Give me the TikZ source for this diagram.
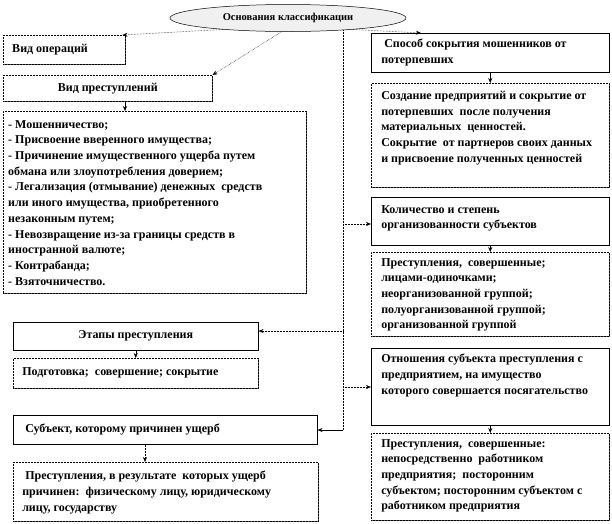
\documentclass[tikz,border=0pt]{standalone}
\usepackage{fontspec}
\setmainfont{Liberation Serif}
\usetikzlibrary{arrows.meta,shadows,calc,shapes.geometric}
% top-aligned text box: width, height, left indent, top gap, text
\newcommand\btt[5]{\parbox[c][#2pt][t]{#1pt}{\raggedright\leftskip=#3pt\relax\vspace*{#4pt}#5}}
% vertically centred text box: width, height, left indent, text
\newcommand\btm[4]{\parbox[c][#2pt][c]{#1pt}{\raggedright\leftskip=#3pt\relax #4}}
% centred text box: width, height, text
\newcommand\btc[3]{\parbox[c][#2pt][c]{#1pt}{\centering #3}}
\tikzset{
  bx/.style={draw=black, line width=0.5pt, fill=white, anchor=north west, inner sep=0pt,
    drop shadow={shadow xshift=1.2pt, shadow yshift=-1.2pt, fill=black!65, opacity=1}},
  dbx/.style={bx, densely dotted},
  conn/.style={densely dotted, line width=0.5pt, -{Stealth[length=5pt,width=4pt]}},
  sconn/.style={line width=0.5pt, -{Stealth[length=5pt,width=4pt]}},
}
\begin{document}
\begin{tikzpicture}[x=1pt,y=-1pt, font=\bfseries\fontsize{12}{15.7}\selectfont]
\useasboundingbox (0,0) rectangle (612,523);
% ellipse
\node[ellipse, draw=black, line width=0.5pt, fill=gray!12, minimum width=236pt, minimum height=27pt, inner sep=0pt,
  font=\fontsize{10.5}{12}\selectfont\bfseries] (ell) at (288,18) {Основания классификации};
% left column
\node[dbx] (opers) at (3,35) {\btm{122}{29}{9}{Вид операций}};
\node[dbx] (vidpr) at (3,75) {\btc{209}{26}{Вид преступлений}};
\node[dbx] (list) at (3,111) {\btt{303}{182}{5}{9}{- Мошенничество;\\
- Присвоение вверенного имущества;\\
- Причинение имущественного ущерба путем\\
обмана или злоупотребления доверием;\\
- Легализация (отмывание) денежных\ \ средств\\
или иного имущества, приобретенного\\
незаконным путем;\\
- Невозвращение из-за границы средств в\\
иностранной валюте;\\
- Контрабанда;\\
- Взяточничество.}};
\node[bx] (etapy) at (13,322) {\btc{245}{28}{Этапы преступления}};
\node[dbx] (podg) at (13,358) {\btm{245}{30}{9}{Подготовка;\ \ совершение; сокрытие}};
\node[bx] (subj) at (13,415) {\btm{304}{29}{9}{\ Субъект, которому причинен ущерб}};
\node[dbx] (subjres) at (13,462) {\btt{305}{59}{9}{9}{\ Преступления, в результате\ \ которых ущерб\\
причинен:\ \ физическому лицу, юридическому\\
лицу, государству}};
% right column
\node[bx] (sposob) at (371,33) {\btt{238}{39}{10}{6}{\ Способ сокрытия мошенников от\\
потерпевших}};
\node[dbx] (sozd) at (371,83) {\btt{238}{104}{10}{8}{Создание предприятий и сокрытие от\\
потерпевших\ \ после получения\\
материальных\ \ ценностей.\\
Сокрытие\ \ от партнеров своих данных\\
и присвоение полученных ценностей}};
\node[bx] (kol) at (371,197) {\btt{238}{48}{10}{8}{Количество и степень\\
организованности субъектов}};
\node[dbx] (kolres) at (371,252) {\btt{238}{84}{10}{6}{Преступления,\ \ совершенные;\\
лицами-одиночками;\\
неорганизованной группой;\\
полуорганизованной группой;\\
организованной группой}};
\node[bx] (otn) at (371,348) {\btt{238}{77}{10}{6}{Отношения субъекта преступления с\\
предприятием, на имущество\\
которого совершается посягательство}};
\node[dbx] (otnres) at (371,433) {\btt{238}{87}{10}{6}{Преступления,\ \ совершенные:\\
непосредственно\ \ работником\\
предприятия;\ \ посторонним\\
субъектом; посторонним субъектом с\\
работником предприятия}};
% spine
\coordinate (vtop) at (343,30);
\coordinate (j1) at (343,224);
\coordinate (j2) at (343,331);
\coordinate (j3) at (343,387);
\coordinate (j4) at (343,430);
\draw[densely dotted, line width=0.5pt] (vtop) -- (j4);
% connectors from ellipse
\draw[conn] (ell.190) -- ($(opers.north east)+(-3,0)$);
\draw[conn] (ell.245) -- (vidpr.north east);
\draw[conn] (ell.-10) -- ($(sposob.north west)+(50,0)$);
% from spine
\draw[conn] (j1) -- (j1 -| kol.west);
\draw[conn] (j2) -- (j2 -| etapy.east);
\draw[conn] (j3) -- (j3 -| otn.west);
\draw[sconn] (j4) -- (j4 -| subj.east);
% vertical short arrows
\draw[sconn] ($(vidpr.south west)+(122,0)$) -- ($(list.north west)+(122,0)$);
\draw[sconn] (sposob.south) -- (sozd.north);
\draw[sconn] (kol.south) -- (kolres.north);
\draw[sconn] (otn.south) -- (otnres.north);
\draw[sconn] (etapy.south) -- (podg.north);
\draw[conn] ($(subj.south west)+(132,0)$) -- ($(subjres.north west)+(132,0)$);
\end{tikzpicture}
\end{document}
